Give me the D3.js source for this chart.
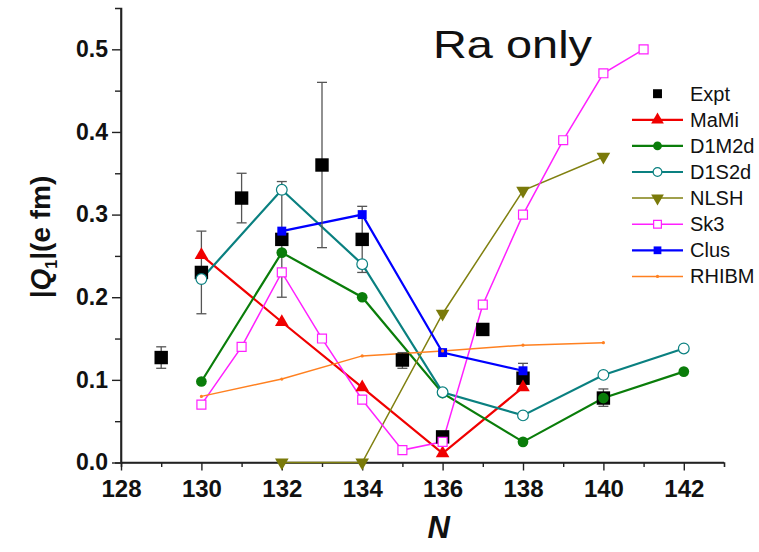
<!DOCTYPE html>
<html><head><meta charset="utf-8">
<script src="https://cdn.jsdelivr.net/npm/d3@7"></script>
<style>body{margin:0;background:#fff}svg{display:block}</style>
</head><body>
<script>
// ---- data ----
const exptN   = [129, 130, 131, 132, 133, 134, 135, 136, 137, 138, 140];
const exptQ   = [0.127, 0.230, 0.320, 0.270, 0.360, 0.270, 0.124, 0.031, 0.161, 0.102, 0.078];
const exptLo  = [0.114, 0.180, 0.290, 0.200, 0.260, 0.230, 0.114, 0.025, 0.156, 0.088, 0.068];
const exptHi  = [0.140, 0.280, 0.350, 0.340, 0.460, 0.310, 0.133, 0.037, 0.166, 0.120, 0.089];

const mamiN = [130, 132, 134, 136, 138];
const mamiQ = [0.251, 0.170, 0.091, 0.011, 0.091];
const d1m2dN = [130, 132, 134, 136, 138, 140, 142];
const d1m2dQ = [0.098, 0.254, 0.200, 0.084, 0.025, 0.078, 0.110];
const d1s2dN = [130, 132, 134, 136, 138, 140, 142];
const d1s2dQ = [0.222, 0.330, 0.240, 0.085, 0.057, 0.106, 0.138];
const nlshN = [132, 134, 136, 138, 140];
const nlshQ = [0.0, 0.0, 0.180, 0.329, 0.370];
const sk3N = [130, 131, 132, 133, 134, 135, 136, 137, 138, 139, 140, 141];
const sk3Q = [0.070, 0.140, 0.230, 0.150, 0.076, 0.015, 0.025, 0.191, 0.300, 0.390, 0.471, 0.500];
const clusN = [132, 134, 136, 138];
const clusQ = [0.280, 0.300, 0.133, 0.111];
const rhibmN = [130, 132, 134, 136, 138, 140];
const rhibmQ = [0.080, 0.101, 0.129, 0.135, 0.142, 0.145];

const xTicks = [128, 130, 132, 134, 136, 138, 140, 142];
const yTicks = [0.0, 0.1, 0.2, 0.3, 0.4, 0.5];
const legendNames = ["Expt", "MaMi", "D1M2d", "D1S2d", "NLSH", "Sk3", "Clus", "RHIBM"];

// ---- layout ----
const W = 759, H = 552;
const svg = d3.select("body").append("svg").attr("width", W).attr("height", H);
const x = d3.scaleLinear().domain([128, 143]).range([121, 724]);
const y = d3.scaleLinear().domain([0, 0.55]).range([462.5, 8]);
const font = "Liberation Sans, Arial, sans-serif";

// axes
const axisCol = "#222";
const xAxisMinor = d3.axisBottom(x).tickValues(d3.range(129, 143, 2)).tickSize(4.5).tickFormat("");
const xAxis = d3.axisBottom(x).tickValues(xTicks).tickSize(8).tickPadding(9).tickFormat(d3.format("d"));
const yAxisMinor = d3.axisLeft(y).tickValues([0.05, 0.15, 0.25, 0.35, 0.45]).tickSize(6).tickFormat("");
const yAxis = d3.axisLeft(y).tickValues(yTicks).tickSize(9).tickPadding(4).tickFormat(d3.format(".1f"));

function styleAxis(g, fs) {
  g.selectAll("path.domain").attr("stroke", axisCol).attr("stroke-width", 1.6);
  g.selectAll(".tick line").attr("stroke", axisCol).attr("stroke-width", 1.4);
  g.selectAll("text").attr("font-family", font).attr("font-weight", "bold").attr("font-size", fs).attr("fill", "#111");
}
const gx2 = svg.append("g").attr("transform", `translate(0,${y(0)})`).call(xAxisMinor); styleAxis(gx2, 24);
const gx = svg.append("g").attr("transform", `translate(0,${y(0)})`).call(xAxis); styleAxis(gx, 24);
gx.selectAll("path.domain").attr("d", `M${x(128)},0H${x(143)}`);
const gy2 = svg.append("g").attr("transform", `translate(${x(128)},0)`).call(yAxisMinor); styleAxis(gy2, 23);
const gy = svg.append("g").attr("transform", `translate(${x(128)},0)`).call(yAxis); styleAxis(gy, 23);
gy.selectAll("path.domain").attr("d", `M0,${y(0.55)}V${y(0)}`);

// axis titles
const yl = svg.append("text").attr("transform", `translate(50,237) rotate(-90)`)
  .attr("text-anchor", "middle").attr("font-family", font).attr("font-weight", "bold").attr("font-size", 28).attr("fill", "#111");
yl.append("tspan").text("|");
yl.append("tspan").attr("font-style", "italic").text("Q");
yl.append("tspan").attr("font-size", 16).attr("dy", 7).text("1");
yl.append("tspan").attr("dy", -7).text("|(e fm)");
svg.append("text").attr("x", x(136) - 4).attr("y", 538).attr("text-anchor", "middle")
  .attr("font-family", font).attr("font-weight", "bold").attr("font-style", "italic").attr("font-size", 31).attr("fill", "#111").text("N");

// title
svg.append("text").attr("x", 433).attr("y", 58).attr("font-family", font).attr("font-size", 39)
  .attr("textLength", 159).attr("lengthAdjust", "spacingAndGlyphs").attr("fill", "#111").text("Ra only");

// ---- series ----
const line = d3.line();
function drawLine(N, Q, col, w) {
  svg.append("path").attr("d", line(N.map((n, i) => [x(n), y(Q[i])])))
    .attr("fill", "none").attr("stroke", col).attr("stroke-width", w);
}
const sym = {
  tri: d3.symbol().type(d3.symbolTriangle).size(80)(),
  circ: d3.symbol().type(d3.symbolCircle).size(90)(),
  sq: d3.symbol().type(d3.symbolSquare).size(80)(),
  big: d3.symbol().type(d3.symbolSquare).size(180)()
};
function drawMarks(N, Q, kind, fill, stroke, sw, rot) {
  svg.append("g").selectAll("path").data(N).join("path")
    .attr("d", kind)
    .attr("transform", (n, i) => `translate(${x(n)},${y(Q[i])})${rot ? " rotate(180)" : ""}`)
    .attr("fill", fill).attr("stroke", stroke).attr("stroke-width", sw);
}
const series = [
  {name: "MaMi", N: mamiN, Q: mamiQ, col: "#f00000", w: 2.2, kind: sym.tri, fill: "#f00000", sw: 0, rot: false},
  {name: "D1M2d", N: d1m2dN, Q: d1m2dQ, col: "#0a7d0a", w: 2.2, kind: sym.circ, fill: "#0a7d0a", sw: 0, rot: false},
  {name: "D1S2d", N: d1s2dN, Q: d1s2dQ, col: "#0a8080", w: 2.2, kind: sym.circ, fill: "#fff", sw: 1.2, rot: false},
  {name: "NLSH", N: nlshN, Q: nlshQ, col: "#808010", w: 1.5, kind: sym.tri, fill: "#7a7a0a", sw: 0, rot: true},
  {name: "Sk3", N: sk3N, Q: sk3Q, col: "#ff20ff", w: 1.5, kind: sym.sq, fill: "#fff", sw: 1.2, rot: false},
  {name: "Clus", N: clusN, Q: clusQ, col: "#0000ff", w: 2.2, kind: sym.sq, fill: "#0000ff", sw: 0, rot: false},
  {name: "RHIBM", N: rhibmN, Q: rhibmQ, col: "#ff8020", w: 1.5, kind: d3.symbol().type(d3.symbolCircle).size(8)(), fill: "#ff8020", sw: 0, rot: false}
];

// draw lines
series.forEach(s => drawLine(s.N, s.Q, s.col, s.w));

// expt error bars and squares
const eb = svg.append("g").attr("stroke", "#555").attr("stroke-width", 1.3);
exptN.forEach((n, i) => {
  eb.append("line").attr("x1", x(n)).attr("x2", x(n)).attr("y1", y(exptLo[i])).attr("y2", y(exptHi[i]));
  [exptLo[i], exptHi[i]].forEach(v => eb.append("line").attr("x1", x(n) - 5).attr("x2", x(n) + 5).attr("y1", y(v)).attr("y2", y(v)));
});
drawMarks(exptN, exptQ, sym.big, "#000", "none", 0, false);

// markers
series.forEach(s => drawMarks(s.N, s.Q, s.kind, s.fill, s.sw ? s.col : "none", s.sw, s.rot));

// ---- legend ----
const lg = svg.append("g");
const ly0 = 93.7, ldy = 26.1, lx0 = 632, lx1 = 683, lxt = 690;
legendNames.forEach((name, i) => {
  const yy = ly0 + i * ldy;
  const cx = (lx0 + lx1) / 2;
  if (i === 0) {
    lg.append("path").attr("d", sym.sq).attr("transform", `translate(${cx},${yy})`).attr("fill", "#000");
  } else {
    const s = series[i - 1];
    lg.append("line").attr("x1", lx0).attr("x2", lx1).attr("y1", yy).attr("y2", yy).attr("stroke", s.col).attr("stroke-width", s.w);
    const k = (s.name === "RHIBM") ? s.kind : (s.kind === sym.circ ? d3.symbol().type(d3.symbolCircle).size(60)() : (s.kind === sym.tri ? d3.symbol().type(d3.symbolTriangle).size(70)() : d3.symbol().type(d3.symbolSquare).size(60)()));
    lg.append("path").attr("d", k).attr("transform", `translate(${cx},${yy})${s.rot ? " rotate(180)" : ""}`)
      .attr("fill", s.fill).attr("stroke", s.sw ? s.col : "none").attr("stroke-width", s.sw);
  }
  lg.append("text").attr("x", lxt).attr("y", yy + 7).attr("font-family", font).attr("font-size", 20).attr("fill", "#111").text(name);
});
</script>
</body></html>
